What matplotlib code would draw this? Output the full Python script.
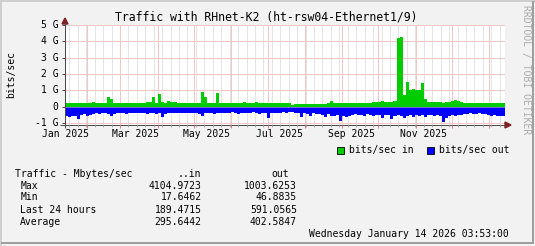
import matplotlib
matplotlib.use("Agg")
import matplotlib.pyplot as plt
from matplotlib.lines import Line2D
from matplotlib.patches import Polygon, Rectangle
import numpy as np

# ---------------- data ----------------
title = "Traffic with RHnet-K2 (ht-rsw04-Ethernet1/9)"
bin_days = 2.5  # each value covers 2.5 days, from Jan 14 2025 to Jan 14 2026

# bits/sec in (G), positive area
traffic_in = [
    0.22, 0.24, 0.23, 0.22, 0.23, 0.24, 0.25, 0.24, 0.22,
    0.28,
    0.22, 0.23, 0.24, 0.25,
    0.62, 0.45,
    0.23, 0.22, 0.24, 0.23, 0.22, 0.24, 0.25, 0.23, 0.22, 0.24, 0.23, 0.26,
    0.30, 0.60, 0.25, 0.78, 0.30,
    0.24, 0.32, 0.26, 0.28, 0.23, 0.24, 0.22, 0.23, 0.24, 0.22, 0.23, 0.25,
    0.90, 0.62, 0.25, 0.24, 0.23, 0.85,
    0.22, 0.23, 0.22, 0.24, 0.23, 0.22, 0.23, 0.24, 0.30, 0.25, 0.23, 0.22,
    0.26, 0.24, 0.23, 0.22, 0.22, 0.23, 0.22, 0.21, 0.22, 0.23, 0.22, 0.21,
    0.08,
    0.17, 0.18, 0.17, 0.18, 0.19, 0.18, 0.17, 0.18, 0.18, 0.19, 0.18, 0.20,
    0.32,
    0.23, 0.22, 0.23, 0.22, 0.23, 0.24, 0.22, 0.23, 0.22, 0.23, 0.22, 0.24, 0.23,
    0.30, 0.31, 0.30, 0.32, 0.30, 0.31, 0.30, 0.35,
    4.20, 4.25, 0.70, 1.50, 1.05, 1.10, 1.00, 1.05, 1.45, 0.45, 0.30,
    0.28, 0.27, 0.26, 0.27, 0.25, 0.26, 0.28, 0.33, 0.42, 0.32, 0.26, 0.24,
    0.23, 0.22, 0.23, 0.22, 0.22, 0.21, 0.22, 0.20, 0.21, 0.20, 0.20, 0.21, 0.20,
]

# bits/sec out (G), drawn as negative area
traffic_out = [
    -0.58, -0.62, -0.60, -0.56,
    -0.76,
    -0.50, -0.45, -0.60, -0.48,
    -0.42, -0.40, -0.42, -0.38, -0.40, -0.42,
    -0.58,
    -0.42, -0.40, -0.38, -0.40, -0.42, -0.38, -0.40, -0.36, -0.40, -0.38,
    -0.40, -0.42, -0.38, -0.40, -0.45, -0.40,
    -0.65,
    -0.42, -0.38, -0.40, -0.37, -0.40, -0.38, -0.36, -0.40, -0.38, -0.40, -0.37, -0.42,
    -0.55,
    -0.40, -0.38, -0.40, -0.42, -0.38, -0.36, -0.38, -0.36, -0.40, -0.35, -0.38,
    -0.42, -0.36, -0.38, -0.40, -0.36, -0.35, -0.38, -0.42, -0.40, -0.38,
    -0.72,
    -0.40, -0.38, -0.36, -0.38, -0.35, -0.36, -0.34,
    -0.30, -0.36, -0.38, -0.62, -0.40,
    -0.42, -0.55, -0.40, -0.45, -0.42, -0.50, -0.66,
    -0.45, -0.60, -0.55, -0.50,
    -0.86,
    -0.55, -0.66, -0.60, -0.50, -0.45, -0.50, -0.48, -0.55, -0.46,
    -0.50, -0.55, -0.48, -0.50, -0.72, -0.52, -0.50, -0.76,
    -0.55, -0.50, -0.60, -0.72, -0.55, -0.50, -0.66, -0.50, -0.55, -0.50,
    -0.66, -0.52, -0.48, -0.55, -0.50, -0.60,
    -0.96, -0.70,
    -0.55, -0.50, -0.55, -0.50, -0.48, -0.42, -0.45, -0.40, -0.42, -0.44,
    -0.40, -0.45, -0.42, -0.50, -0.55, -0.52, -0.56, -0.55, -0.55,
]

y_ticks = [-1, 0, 1, 2, 3, 4, 5]
y_tick_labels = ["-1 G", "0", "1 G", "2 G", "3 G", "4 G", "5 G"]
x_tick_labels = ["Jan 2025", "Mar 2025", "May 2025", "Jul 2025", "Sep 2025", "Nov 2025"]
x_tick_days = [0.8, 58.5, 117.5, 178.0, 238.0, 297.5]      # days since Jan 14 2025
month_start_days = [18, 46, 77, 107, 138, 168, 199, 230, 260, 291, 321, 352]
week_first_day = 3.6

legend_labels = ["bits/sec in", "bits/sec out"]
table_header = ["Traffic - Mbytes/sec", "..in", "out"]
row_labels = ["Max", "Min", "Last 24 hours", "Average"]
in_values = ["4104.9723", "17.6462", "189.4715", "295.6442"]
out_values = ["1003.6253", "46.8835", "591.0565", "402.5847"]
date_line = "Wednesday January 14 2026 03:53:00"
watermark = "RRDTOOL / TOBI OETIKER"

# ---------------- style ----------------
W, H = 535, 246
DPI = 100
BG = "#F2F2F2"
GREEN = "#00CC00"
BLUE = "#0000FF"
MGRID = "#F3C6C6"
GRID = "#E4E4E4"
TICK_M = "#E08080"
TICK_G = "#B0B0B0"
ARROW = "#801F1F"
AXIS = "#4A4A4A"
MONO = "DejaVu Sans Mono"

def fx(px):
    return px / W

def fy(py):
    return 1 - py / H

fig = plt.figure(figsize=(W / DPI, H / DPI), dpi=DPI, facecolor=BG)

# plot area: x 65..505 px, y 24.9..125 px
ax = fig.add_axes([fx(65), fy(125), fx(505) - fx(65), fy(24.9) - fy(125)])
ax.set_facecolor("white")
xmax = len(traffic_in) * bin_days
ax.set_xlim(0, xmax)
ax.set_ylim(-1.12, 5.0)
for s in ax.spines.values():
    s.set_visible(False)
ax.set_xticks([])
ax.set_yticks([])

lw = 0.72
# minor weekly grid
d = week_first_day
while d < xmax:
    ax.axvline(d, color=GRID, lw=lw, zorder=1)
    d += 7
for m in month_start_days:
    ax.axvline(m, color=MGRID, lw=lw, zorder=1.5)
for yv in y_ticks:
    ax.axhline(yv, color=MGRID, lw=lw, zorder=1.5)

x_edges = np.arange(len(traffic_in)) * bin_days
ax.bar(x_edges, traffic_in, width=bin_days, align="edge", color=GREEN,
       linewidth=0, antialiased=False, zorder=2)
ax.bar(x_edges, traffic_out, width=bin_days, align="edge", color=BLUE,
       linewidth=0, antialiased=False, zorder=2)
ax.axhline(0, color=MGRID, lw=lw, ls=(0, (1, 1)), zorder=3)

# axes lines and arrows (figure pixel coordinates)
def fline(x0, y0, x1, y1, color, lwpx=1.0):
    fig.add_artist(Line2D([fx(x0), fx(x1)], [fy(y0), fy(y1)], color=color,
                          lw=lwpx * 0.72, transform=fig.transFigure,
                          solid_capstyle="butt"))

fline(65, 128, 65, 22, AXIS)
fline(60, 125, 506, 125, AXIS)
fig.add_artist(Polygon([[fx(62), fy(24)], [fx(68), fy(24)], [fx(65), fy(18)]],
                       closed=True, color=ARROW, transform=fig.transFigure))
fig.add_artist(Polygon([[fx(505), fy(122)], [fx(505), fy(128)], [fx(511), fy(125)]],
                       closed=True, color=ARROW, transform=fig.transFigure))

# y tick marks and labels
for yv, lab in zip(y_ticks, y_tick_labels):
    py = 24.9 + (5.0 - yv) * (125 - 24.9) / 6.12
    fline(62, py, 65, py, AXIS)
    fig.text(fx(58.5), fy(py), lab, ha="right", va="center", family=MONO,
             fontsize=7, color="black")

# x tick marks (minor and major) and labels
def day_to_px(dd):
    return 65 + dd * 440 / xmax

d = week_first_day
while d < xmax:
    p = day_to_px(d)
    fline(p, 125, p, 127, TICK_G)
    d += 7
for m in month_start_days:
    p = day_to_px(m)
    fline(p, 125, p, 128, TICK_M)
for dd, lab in zip(x_tick_days, x_tick_labels):
    fig.text(fx(day_to_px(dd)), fy(134.3), lab, ha="center", va="center",
             family=MONO, fontsize=7, color="black")

# title, y label, watermark
fig.text(fx(266), fy(16.5), title, ha="center", va="center", family=MONO,
         fontsize=8.3, color="black")
fig.text(fx(11.5), fy(74), "bits/sec", ha="center", va="center", rotation=90,
         family=MONO, fontsize=7, color="black")
fig.text(fx(525.5), fy(5), watermark, ha="center", va="top", rotation=-90,
         family=MONO, fontsize=7, color="#ABABAB")

# legend
for x0, col, lab in [(336.5, GREEN, legend_labels[0]), (426.5, BLUE, legend_labels[1])]:
    fig.add_artist(Rectangle((fx(x0), fy(153.5)), fx(7), 7 / H, facecolor=col,
                             edgecolor="black", lw=0.6, transform=fig.transFigure))
    fig.text(fx(x0 + 12.5), fy(149.8), lab, ha="left", va="center", family=MONO,
             fontsize=7, color="black")

# table
fig.text(fx(14.7), fy(173.7), table_header[0], ha="left", va="center", family=MONO, fontsize=7)
fig.text(fx(201.5), fy(173.7), table_header[1], ha="right", va="center", family=MONO, fontsize=7)
fig.text(fx(289), fy(173.7), table_header[2], ha="right", va="center", family=MONO, fontsize=7)
row_y = [185.7, 197.5, 209.6, 221.6]
for yy, lab, vi, vo in zip(row_y, row_labels, in_values, out_values):
    fig.text(fx(20.3), fy(yy), lab, ha="left", va="center", family=MONO, fontsize=7)
    fig.text(fx(201.5), fy(yy), vi, ha="right", va="center", family=MONO, fontsize=7)
    fig.text(fx(297), fy(yy), vo, ha="right", va="center", family=MONO, fontsize=7)
fig.text(fx(509), fy(233.7), date_line, ha="right", va="center", family=MONO, fontsize=7)

# 3D frame
fline(0, 1, 535, 1, "#CFCFCF", 2)
fline(1, 0, 1, 246, "#CFCFCF", 2)
fline(1, 243, 534, 243, "#9E9E9E", 2)
fline(533, 1, 533, 244, "#9E9E9E", 2)

fig.savefig("out.png", dpi=DPI, facecolor=BG)
